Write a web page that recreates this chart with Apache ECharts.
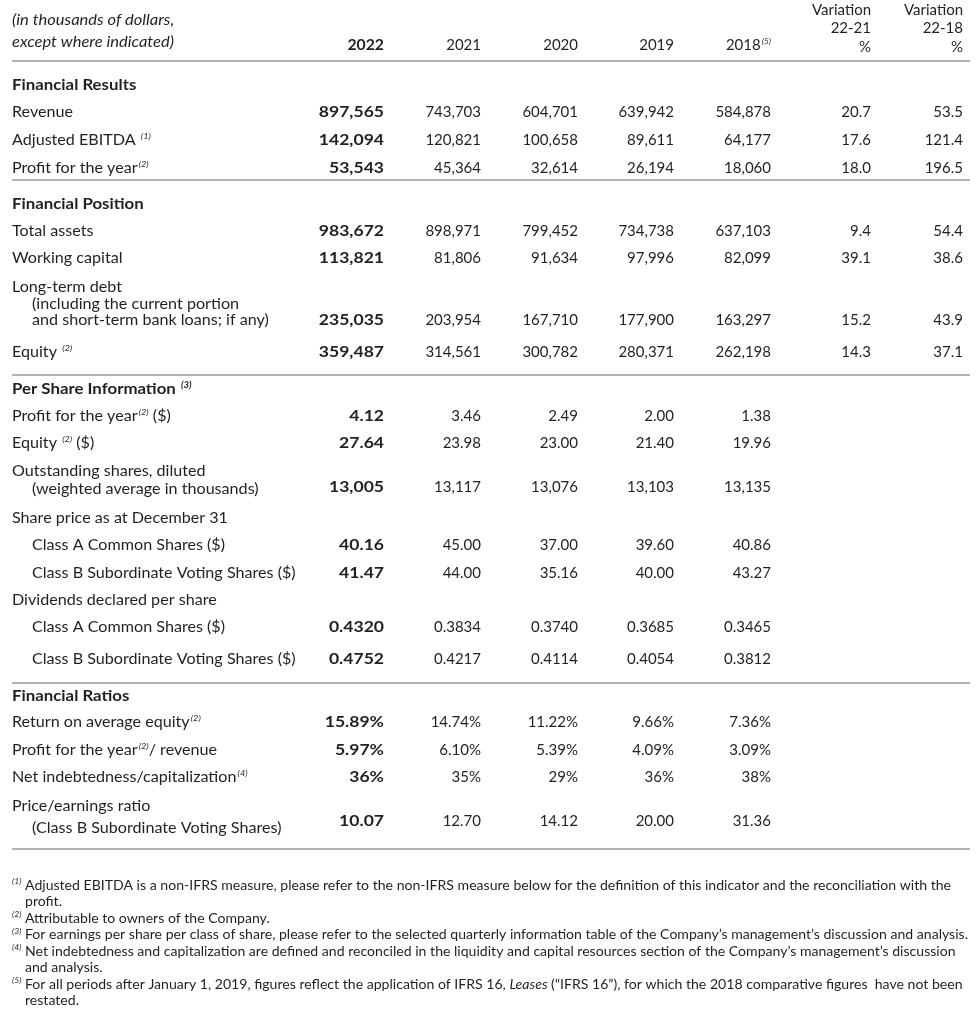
<!DOCTYPE html>
<html><head><meta charset="utf-8">
<script src="https://cdn.jsdelivr.net/npm/echarts@6/dist/echarts.min.js"></script>
<style>html,body{margin:0;padding:0;background:#fff}#c{width:980px;height:1016px}</style>
</head><body><div id="c"></div>
<script>
// ---------- DATA ----------
const yearLabels = ['2022', '2021', '2020', '2019', '2018'];
const variationLabels = [['Variation', '22-21', '%'], ['Variation', '22-18', '%']];
const unitNote = ['(in thousands of dollars,', 'except where indicated)'];

const revenue = [897565, 743703, 604701, 639942, 584878];
const revenueVar = [20.7, 53.5];
const adjustedEbitda = [142094, 120821, 100658, 89611, 64177];
const adjustedEbitdaVar = [17.6, 121.4];
const profitForYear = [53543, 45364, 32614, 26194, 18060];
const profitForYearVar = [18.0, 196.5];
const totalAssets = [983672, 898971, 799452, 734738, 637103];
const totalAssetsVar = [9.4, 54.4];
const workingCapital = [113821, 81806, 91634, 97996, 82099];
const workingCapitalVar = [39.1, 38.6];
const longTermDebt = [235035, 203954, 167710, 177900, 163297];
const longTermDebtVar = [15.2, 43.9];
const equity = [359487, 314561, 300782, 280371, 262198];
const equityVar = [14.3, 37.1];
const profitPerShare = [4.12, 3.46, 2.49, 2.00, 1.38];
const equityPerShare = [27.64, 23.98, 23.00, 21.40, 19.96];
const dilutedShares = [13005, 13117, 13076, 13103, 13135];
const classASharePrice = [40.16, 45.00, 37.00, 39.60, 40.86];
const classBSharePrice = [41.47, 44.00, 35.16, 40.00, 43.27];
const classADividend = [0.4320, 0.3834, 0.3740, 0.3685, 0.3465];
const classBDividend = [0.4752, 0.4217, 0.4114, 0.4054, 0.3812];
const returnOnEquity = [15.89, 14.74, 11.22, 9.66, 7.36];
const profitMargin = [5.97, 6.10, 5.39, 4.09, 3.09];
const netDebtToCapital = [36, 35, 29, 36, 38];
const priceEarnings = [10.07, 12.70, 14.12, 20.00, 31.36];

const footnotes = [
  ['(1)', ['Adjusted EBITDA is a non-IFRS measure, please refer to the non-IFRS measure below for the definition of this indicator and the reconciliation with the', 'profit.']],
  ['(2)', ['Attributable to owners of the Company.']],
  ['(3)', ['For earnings per share per class of share, please refer to the selected quarterly information table of the Company\u2019s management\u2019s discussion and analysis.']],
  ['(4)', ['Net indebtedness and capitalization are defined and reconciled in the liquidity and capital resources section of the Company\u2019s management\u2019s discussion', 'and analysis.']],
  ['(5)', ['For all periods after January 1, 2019, figures reflect the application of IFRS 16, {i|Leases} (\u201CIFRS 16\u201D), for which the 2018 comparative figures  have not been', 'restated.']]
];

// ---------- TABLE STRUCTURE ----------
const rows = [
  {type: 'section', label: 'Financial Results'},
  {label: ['Revenue'], v: revenue, d: revenueVar, dec: 0},
  {label: ['Adjusted EBITDA '], sup: '(1)', v: adjustedEbitda, d: adjustedEbitdaVar, dec: 0},
  {label: ['Profit for the year'], sup: '(2)', v: profitForYear, d: profitForYearVar, dec: 0},
  {type: 'rule'},
  {type: 'section', label: 'Financial Position'},
  {label: ['Total assets'], v: totalAssets, d: totalAssetsVar, dec: 0},
  {label: ['Working capital'], v: workingCapital, d: workingCapitalVar, dec: 0},
  {label: ['Long-term debt', '(including the current portion', 'and short-term bank loans; if any)'], v: longTermDebt, d: longTermDebtVar, dec: 0},
  {label: ['Equity '], sup: '(2)', v: equity, d: equityVar, dec: 0},
  {type: 'rule'},
  {type: 'section', label: 'Per Share Information ', sup: '(3)'},
  {label: ['Profit for the year'], sup: '(2)', after: ' ($)', v: profitPerShare, dec: 2},
  {label: ['Equity '], sup: '(2)', after: ' ($)', v: equityPerShare, dec: 2},
  {label: ['Outstanding shares, diluted', '(weighted average in thousands)'], v: dilutedShares, dec: 0},
  {label: ['Share price as at December 31']},
  {label: ['Class A Common Shares ($)'], indent: true, v: classASharePrice, dec: 2},
  {label: ['Class B Subordinate Voting Shares ($)'], indent: true, v: classBSharePrice, dec: 2},
  {label: ['Dividends declared per share']},
  {label: ['Class A Common Shares ($)'], indent: true, v: classADividend, dec: 4},
  {label: ['Class B Subordinate Voting Shares ($)'], indent: true, v: classBDividend, dec: 4},
  {type: 'rule'},
  {type: 'section', label: 'Financial Ratios'},
  {label: ['Return on average equity'], sup: '(2)', v: returnOnEquity, dec: 2, pct: true},
  {label: ['Profit for the year'], sup: '(2)', after: '/ revenue', v: profitMargin, dec: 2, pct: true},
  {label: ['Net indebtedness/capitalization'], sup: '(4)', v: netDebtToCapital, dec: 0, pct: true},
  {label: ['Price/earnings ratio', '(Class B Subordinate Voting Shares)'], v: priceEarnings, dec: 2},
  {type: 'rule'}
];

// ---------- LAYOUT ----------
const rowLayout = [
  {y: [85]}, {y: [112]}, {y: [140]}, {y: [168]}, {y: [180]},
  {y: [204]}, {y: [231]}, {y: [258]}, {y: [287, 304, 320], vy: 320}, {y: [352]}, {y: [375]},
  {y: [389]}, {y: [416]}, {y: [443]}, {y: [471, 489], vy: 487}, {y: [518]}, {y: [545]}, {y: [573]},
  {y: [600]}, {y: [627]}, {y: [659]}, {y: [683]},
  {y: [696]}, {y: [722]}, {y: [750]}, {y: [777]}, {y: [806, 828], vy: 821}, {y: [849]}
];
const headerRuleY = 61;
const colRight = [384, 481, 578, 674, 771, 871, 963];
const labelLeft = 12, indentLeft = 32, ruleLeft = 12, ruleRight = 970;
const footTop = 885, footStep = 16.5, footSupX = 12, footTextX = 25, footRefWidth = 943;
// horizontal stretch per text style (to mimic the wider original typeface)
const stretch = {label: 1.075, section: 1.12, boldNum: 1.17, num: 1.0, italic: 1.1, head: 1.0};

const FAM = 'Lato, "Open Sans", sans-serif';
const INK = '#231f20';
const FS = 15, FOOTFS = 14;

function fmt(v, dec) {
  return v.toLocaleString('en-US', {minimumFractionDigits: dec, maximumFractionDigits: dec});
}

// ---------- BUILD CELLS ----------
const cells = [];
const rules = [headerRuleY];
function addCell(x, y, text, opt) { cells.push(Object.assign({x: x, y: y, text: text, sx: 1}, opt || {})); }

unitNote.forEach((t, i) => addCell(labelLeft, [20, 42][i], t, {italic: true, sx: stretch.italic}));
yearLabels.forEach((t, i) => addCell(colRight[i], 45, i === 4 ? t + '{s|(5)}' : t, {align: 'right', bold: i === 0, sx: i === 0 ? 1.05 : 1}));
variationLabels.forEach((lines, j) => lines.forEach((t, k) => addCell(colRight[5 + j], [10, 28, 47][k], t, {align: 'right', sx: stretch.head})));

rows.forEach((r, ri) => {
  const L = rowLayout[ri];
  if (r.type === 'rule') { rules.push(L.y[0]); return; }
  if (r.type === 'section') {
    addCell(labelLeft, L.y[0], r.label + (r.sup ? '{sb|' + r.sup + '}' : ''), {bold: true, sx: stretch.section});
    return;
  }
  r.label.forEach((t, k) => {
    let txt = t;
    if (k === 0 && r.sup) txt += '{s|' + r.sup + '}';
    if (k === 0 && r.after) txt += r.after;
    const x = (r.indent || k > 0) ? indentLeft : labelLeft;
    addCell(x, L.y[k], txt, {sx: stretch.label});
  });
  const vy = L.vy || L.y[0];
  if (r.v) r.v.forEach((v, i) => addCell(colRight[i], vy, fmt(v, r.dec) + (r.pct ? '%' : ''),
    {align: 'right', bold: i === 0, sx: i === 0 ? stretch.boldNum : stretch.num}));
  if (r.d) r.d.forEach((v, j) => addCell(colRight[5 + j], vy, v.toFixed(1), {align: 'right', sx: stretch.num}));
});

// footnotes: same typeface, horizontally condensed to the original line length
const mctx = document.createElement('canvas').getContext('2d');
mctx.font = FOOTFS + 'px ' + FAM;
const footScale = footRefWidth / mctx.measureText(footnotes[2][1][0]).width;
let fLine = 0;
footnotes.forEach(f => {
  addCell(footSupX, footTop + fLine * footStep, '{fs|' + f[0] + '}', {foot: true, sx: 1});
  f[1].forEach(t => {
    addCell(footTextX, footTop + fLine * footStep, t, {foot: true, sx: footScale});
    fLine++;
  });
});

// ---------- CHART ----------
const chart = echarts.init(document.getElementById('c'), null, {renderer: 'canvas'});
chart.setOption({
  animation: false,
  grid: {left: 0, right: 0, top: 0, bottom: 0},
  xAxis: {type: 'value', min: 0, max: 980, show: false},
  yAxis: {type: 'value', min: 0, max: 1016, inverse: true, show: false},
  series: [
    {
      type: 'custom', name: 'rules', clip: false,
      data: rules.map(y => [ruleLeft, y, ruleRight]),
      encode: {x: 0, y: 1},
      renderItem: function (params, api) {
        const a = api.coord([api.value(0), api.value(1)]);
        const b = api.coord([api.value(2), api.value(1)]);
        return {type: 'line', shape: {x1: a[0], y1: a[1], x2: b[0], y2: b[1]}, style: {stroke: '#9b9b9b', lineWidth: 1.5}};
      }
    },
    {
      type: 'custom', name: 'cells', clip: false,
      data: cells.map((c, i) => [c.x, c.y, i]),
      encode: {x: 0, y: 1},
      renderItem: function (params, api) {
        const c = cells[api.value(2)];
        const p = api.coord([api.value(0), api.value(1)]);
        const size = c.foot ? FOOTFS : FS;
        const lh = c.foot ? 16 : 18;
        const rich = {
          s: {fontFamily: FAM, fontSize: 8.5, fontStyle: 'italic', fill: INK, verticalAlign: 'top', lineHeight: lh, padding: [1, 0, 0, 1]},
          sb: {fontFamily: FAM, fontSize: 8.5, fontStyle: 'italic', fontWeight: 'bold', fill: INK, verticalAlign: 'top', lineHeight: lh, padding: [1, 0, 0, 1]},
          fs: {fontFamily: FAM, fontSize: 8.5, fontStyle: 'italic', fill: INK, verticalAlign: 'top', lineHeight: lh},
          i: {fontFamily: FAM, fontSize: size, fontStyle: 'italic', fill: INK, lineHeight: lh}
        };
        return {
          type: 'text', x: p[0], y: p[1], scaleX: c.sx,
          style: {
            text: c.text, fill: INK, fontFamily: FAM, fontSize: size,
            fontWeight: c.bold ? 'bold' : 'normal', fontStyle: c.italic ? 'italic' : 'normal',
            align: c.align || 'left', verticalAlign: 'middle', lineHeight: lh, rich: rich
          }
        };
      }
    }
  ]
});
</script></body></html>
